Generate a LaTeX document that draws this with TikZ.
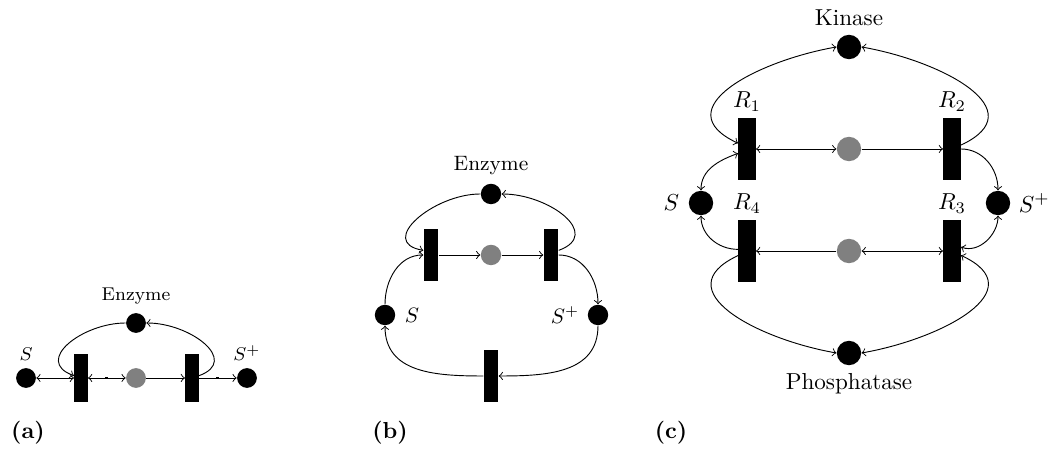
\documentclass[tikz,border=0pt]{standalone}
\usepackage{amsmath}
\usepackage{tikz}
\usetikzlibrary{arrows.meta, positioning, decorations.markings}

\begin{document}
\begin{tikzpicture}[
  x=0.0152cm, y=0.0152cm,
  >=to,
  place/.style={circle, fill=black, inner sep=0pt, minimum size=#1},
  inter/.style={circle, fill=gray, inner sep=0pt, minimum size=#1},
  trans/.style={rectangle, fill=black, inner sep=0pt,
    minimum width=#1, minimum height=3.65*#1},
  midtick/.style={postaction={decorate}, decoration={markings,
    mark=at position 0.5 with {\fill (-0.7pt,-0.5pt) rectangle (0.7pt,0.5pt);}}},
  sub/.style={font=\bfseries}
]
  \useasboundingbox (0,0) rectangle (1051,449);

  % (a) one enzyme
  \begin{scope}[font=\footnotesize]
    \node[place=0.3cm] (aS) at (26,71) {};
    \node[trans=0.2cm] (aT1) at (81,71) {};
    \node[inter=0.3cm] (aG) at (136,71) {};
    \node[trans=0.2cm] (aT2) at (192,71) {};
    \node[place=0.3cm] (aSp) at (247,71) {};
    \node[place=0.3cm] (aE) at (136,126) {};
    \node[above=-0.5pt of aS] (aStxt) {$S$};
    \node[above=-0.5pt of aSp] (aSptxt) {$S^{+}$};
    \node[above=0pt of aE] (aEtxt) {Enzyme};
  \end{scope}
  \draw[<->] (aS) -- (aT1);
  \draw[<->, midtick] (aT1) -- (aG);
  \draw[->] (aG) -- (aT2);
  \draw[->, midtick] (aT2) -- (aSp);
  \draw[->] (aE.west) to[out=180, in=160, looseness=1.5] ([yshift=1pt]aT1.west);
  \draw[->] ([yshift=1pt]aT2.east) to[out=20, in=0, looseness=1.5] (aE.east);
  \node[sub] (alab) at (28,16) {(a)};

  % (b) cycle with back reaction
  \begin{scope}[font=\small]
    \node[trans=0.22cm] (bT1) at (431,194) {};
    \node[inter=0.31cm] (bG) at (491,194) {};
    \node[trans=0.22cm] (bT2) at (551,194) {};
    \node[place=0.31cm] (bE) at (491,255) {};
    \node[place=0.31cm] (bS) at (385,134) {};
    \node[place=0.31cm] (bSp) at (598,134) {};
    \node[trans=0.22cm] (bT3) at (491,73) {};
    \node[above=0pt of bE] (bEtxt) {Enzyme};
    \node[right=0.5pt of bS] (bStxt) {$S$};
    \node[left=0pt of bSp] (bSptxt) {$S^{+}$};
  \end{scope}
  \draw[->] (bT1) -- (bG);
  \draw[->] (bG) -- (bT2);
  \draw[->] (bE.west) to[out=180, in=170, looseness=1.5] ([yshift=2pt]bT1.west);
  \draw[->] ([yshift=2pt]bT2.east) to[out=20, in=0, looseness=1.5] (bE.east);
  \draw[->] (bS.north) to[out=90, in=180] (bT1.west);
  \draw[->] (bT2.east) to[out=0, in=90] (bSp.north);
  \draw[->] (bSp.south) to[out=-90, in=0, looseness=1.1] (bT3.east);
  \draw[->] (bT3.west) to[out=180, in=-90, looseness=1.1] (bS.south);
  \node[sub] (blab) at (390,16) {(b)};

  % (c) kinase / phosphatase
  \node[place=0.37cm] (cK) at (849,402) {};
  \node[trans=0.26cm] (cR1) at (747,300) {};
  \node[inter=0.37cm] (cG1) at (849,300) {};
  \node[trans=0.26cm] (cR2) at (952,300) {};
  \node[place=0.37cm] (cS) at (701,246) {};
  \node[place=0.37cm] (cSp) at (998,246) {};
  \node[trans=0.26cm] (cR4) at (747,198) {};
  \node[inter=0.37cm] (cG2) at (849,198) {};
  \node[trans=0.26cm] (cR3) at (952,198) {};
  \node[place=0.37cm] (cP) at (849,96) {};
  \node[above=0pt of cK] (cKtxt) {Kinase};
  \node[below=0pt of cP] (cPtxt) {Phosphatase};
  \node[above=-1pt of cR1] (cR1txt) {$R_1$};
  \node[above=-1pt of cR2] (cR2txt) {$R_2$};
  \node[above=-1pt of cR3] (cR3txt) {$R_3$};
  \node[above=-1pt of cR4] (cR4txt) {$R_4$};
  \node[left=0.5pt of cS] (cStxt) {$S$};
  \node[right=0pt of cSp] (cSptxt) {$S^{+}$};

  \draw[<->] (cR1) -- (cG1);
  \draw[->] (cG1) -- (cR2);
  \draw[->] (cG2) -- (cR4);
  \draw[<->] (cG2) -- (cR3);
  \draw[<->] ([yshift=2.5pt]cR1.west) to[out=155, in=190, looseness=1.5] (cK.west);
  \draw[->] ([yshift=1.7pt]cR2.east) to[out=25, in=-10, looseness=1.5] (cK.east);
  \draw[<->] (cS.north) to[out=90, in=200] ([yshift=-1.9pt]cR1.west);
  \draw[->] (cR2.east) to[out=0, in=90] (cSp.north);
  \draw[<->] (cSp.south) to[out=-90, in=-20] ([yshift=1.7pt]cR3.east);
  \draw[->] ([yshift=0.7pt]cR4.west) to[out=180, in=-90] (cS.south);
  \draw[->] ([yshift=-2pt]cR4.west) to[out=205, in=170, looseness=1.5] (cP.west);
  \draw[<->] (cP.east) to[out=10, in=-25, looseness=1.5] ([yshift=-1.9pt]cR3.east);
  \node[sub] (clab) at (671,16) {(c)};
\end{tikzpicture}
\end{document}
